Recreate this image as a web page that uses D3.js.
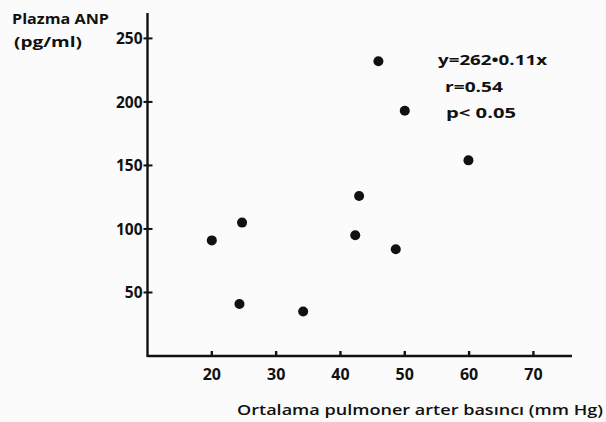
<!DOCTYPE html>
<html>
<head>
<meta charset="utf-8">
<script src="https://cdn.jsdelivr.net/npm/d3@7"></script>
<style>
  html, body { margin: 0; padding: 0; background: #fbfbfb; }
  svg { display: block; }
  text { font-family: "Open Sans", "DejaVu Sans", sans-serif; fill: #111; }
</style>
</head>
<body>
<svg id="chart" width="606" height="422"></svg>
<script>
// ---- data ----
const pressure = [20, 24.7, 24.3, 34.2, 42.3, 48.6, 42.9, 45.9, 50.0, 59.9];   // mm Hg
const anp      = [91, 105, 41, 35, 95, 84, 126, 232, 193, 154];               // pg/ml
const xTicks = [20, 30, 40, 50, 60, 70];
const yTicks = [50, 100, 150, 200, 250];
const yTitle = ["Plazma ANP", "(pg/ml)"];
const xTitle = "Ortalama pulmoner arter basıncı (mm Hg)";
const statsLines = ["y=262•0.11x", "r=0.54", "p< 0.05"];

// ---- layout ----
const svg = d3.select("#chart");
const x = d3.scaleLinear().domain([10, 76]).range([147.5, 572]);
const y = d3.scaleLinear().domain([0, 270]).range([356, 13]);
const ink = "#111";

// axis lines via d3 axes (ticks drawn explicitly below for visibility)
const xAxis = svg.append("g").attr("transform", `translate(0,${y(0)})`)
  .call(d3.axisTop(x).tickValues(xTicks).tickSize(0).tickFormat(""));
xAxis.select(".domain").attr("d", `M${x(10)},0H${x(76)}`).attr("stroke", ink).attr("stroke-width", 2.4);

const yAxis = svg.append("g").attr("transform", `translate(${x(10)},0)`)
  .call(d3.axisRight(y).tickValues(yTicks).tickSize(0).tickFormat(""));
yAxis.select(".domain").attr("d", `M0,${y(270)}V${y(0) + 1}`).attr("stroke", ink).attr("stroke-width", 2.4);

// tick marks
svg.append("g").selectAll("line").data(xTicks).join("line")
  .attr("x1", d => x(d)).attr("x2", d => x(d))
  .attr("y1", y(0)).attr("y2", y(0) - 5)
  .attr("stroke", ink).attr("stroke-width", 2.4);
svg.append("g").selectAll("line").data(yTicks).join("line")
  .attr("x1", x(10) - 4).attr("x2", x(10) + 5)
  .attr("y1", d => y(d)).attr("y2", d => y(d))
  .attr("stroke", ink).attr("stroke-width", 2);

// tick labels
svg.append("g").selectAll("text").data(xTicks).join("text")
  .attr("x", d => x(d)).attr("y", 380)
  .attr("text-anchor", "middle")
  .attr("font-size", 16).attr("font-weight", 700)
  .text(d => d);

svg.append("g").selectAll("text").data(yTicks).join("text")
  .attr("x", x(10) - 5).attr("y", d => y(d) + 6)
  .attr("text-anchor", "end")
  .attr("font-size", 15.5).attr("font-weight", 700)
  .text(d => d);

// axis titles
svg.append("text").attr("x", 12).attr("y", 24)
  .attr("font-size", 14.5).attr("font-weight", 700)
  .attr("textLength", 97).attr("lengthAdjust", "spacingAndGlyphs")
  .text(yTitle[0]);
svg.append("text").attr("x", 14).attr("y", 47)
  .attr("font-size", 14.5).attr("font-weight", 700)
  .attr("textLength", 68).attr("lengthAdjust", "spacingAndGlyphs")
  .text(yTitle[1]);

svg.append("text").attr("x", 237).attr("y", 415)
  .attr("font-size", 14.5).attr("font-weight", 600)
  .attr("textLength", 366).attr("lengthAdjust", "spacingAndGlyphs")
  .text(xTitle);

// points
svg.append("g").selectAll("circle").data(pressure.map((p, i) => [p, anp[i]])).join("circle")
  .attr("cx", d => x(d[0])).attr("cy", d => y(d[1]))
  .attr("r", 5).attr("fill", ink);

// regression stats
const statsX = [438, 445, 446];
const statsY = [65, 92, 118];
const statsW = [109, 58, 70];
svg.append("g").selectAll("text").data(statsLines).join("text")
  .attr("x", (d, i) => statsX[i]).attr("y", (d, i) => statsY[i])
  .attr("font-size", 15).attr("font-weight", 700)
  .attr("textLength", (d, i) => statsW[i]).attr("lengthAdjust", "spacingAndGlyphs")
  .text(d => d);
</script>
</body>
</html>
